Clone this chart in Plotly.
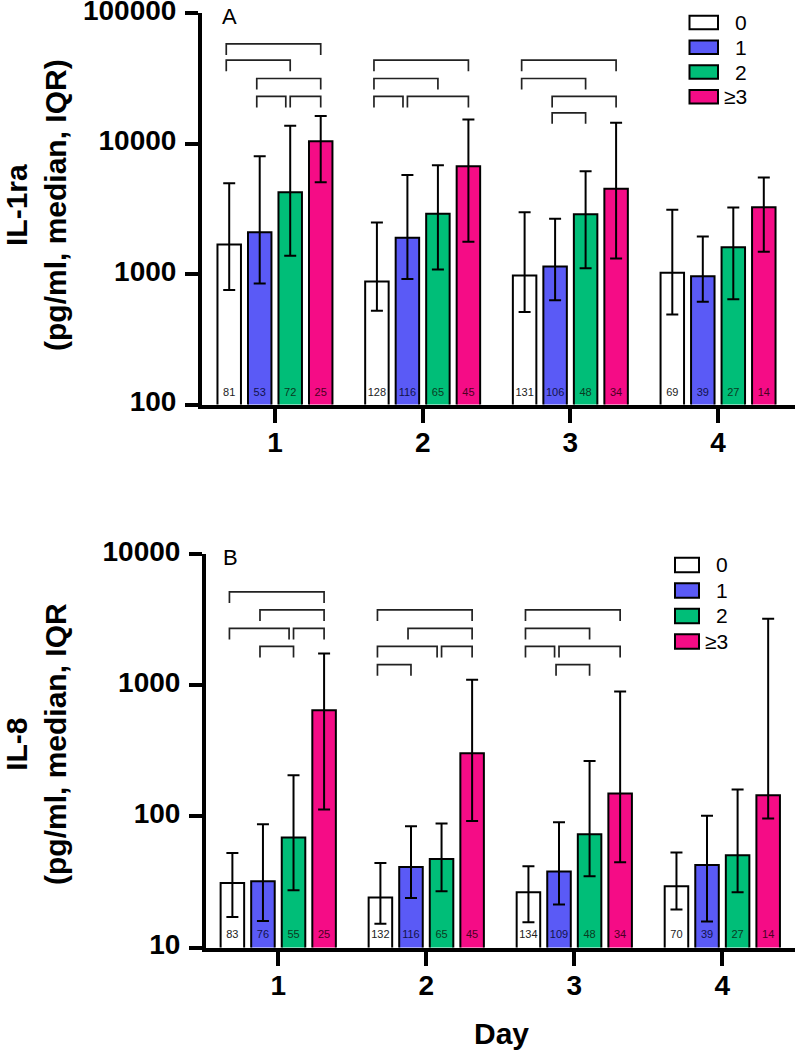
import plotly.graph_objects as go

# ---------------- data ----------------
DAYS = [1, 2, 3, 4]
DAY_TICKS = ["1", "2", "3", "4"]
GROUPS = ["0", "1", "2", "≥3"]

# Panel A: IL-1ra (pg/ml) median and IQR, per group across days 1-4
IL1RA_MED_0 = [1685, 877, 975, 1024]
IL1RA_MED_1 = [2093, 1897, 1143, 960]
IL1RA_MED_2 = [4237, 2890, 2873, 1600]
IL1RA_MED_3 = [10400, 6700, 4497, 3251]
IL1RA_LO_0 = [753, 524, 512, 489]
IL1RA_LO_1 = [844, 914, 628, 614]
IL1RA_LO_2 = [1380, 1084, 1105, 640]
IL1RA_LO_3 = [5050, 1767, 1315, 1483]
IL1RA_HI_0 = [4960, 2484, 2978, 3103]
IL1RA_HI_1 = [7980, 5750, 2650, 1941]
IL1RA_HI_2 = [13700, 6810, 6120, 3236]
IL1RA_HI_3 = [16250, 15300, 14400, 5480]
IL1RA_N_0 = [81, 128, 131, 69]
IL1RA_N_1 = [53, 116, 106, 39]
IL1RA_N_2 = [72, 65, 48, 27]
IL1RA_N_3 = [25, 45, 34, 14]

# Panel B: IL-8 (pg/ml)
IL8_MED_0 = [31.0, 24.0, 26.4, 29.3]
IL8_MED_1 = [32.0, 41.1, 37.9, 42.5]
IL8_MED_2 = [68.8, 47.3, 72.9, 50.4]
IL8_MED_3 = [642, 302, 149, 144.5]
IL8_LO_0 = [17.1, 15.2, 15.6, 19.5]
IL8_LO_1 = [15.9, 23.8, 21.3, 15.8]
IL8_LO_2 = [27.3, 26.8, 34.9, 26.4]
IL8_LO_3 = [112.5, 92.1, 44.6, 96]
IL8_HI_0 = [52.5, 44.1, 41.6, 52.9]
IL8_HI_1 = [86.9, 83.9, 90.0, 101]
IL8_HI_2 = [205, 88.0, 264, 160]
IL8_HI_3 = [1738, 1094, 892, 3190]
IL8_N_0 = [83, 132, 134, 70]
IL8_N_1 = [76, 116, 109, 39]
IL8_N_2 = [55, 65, 48, 27]
IL8_N_3 = [25, 45, 34, 14]

# significance brackets: (day, from group, to group, tier)
IL1RA_BRACKETS = [(1, 0, 3, 0), (1, 0, 2, 1), (1, 1, 3, 2), (1, 1, 2, 3), (1, 2, 3, 3),
                  (2, 0, 3, 1), (2, 0, 2, 2), (2, 0, 1, 3), (2, 1, 3, 3),
                  (3, 0, 3, 1), (3, 0, 2, 2), (3, 1, 3, 3), (3, 1, 2, 4)]
IL1RA_TIERS = [58000, 43500, 31500, 23000, 17200]
IL8_BRACKETS = [(1, 0, 3, 0), (1, 1, 3, 1), (1, 0, 2, 2), (1, 2, 3, 2), (1, 1, 2, 3),
                (2, 0, 3, 1), (2, 1, 3, 2), (2, 0, 2, 3), (2, 2, 3, 3), (2, 0, 1, 4),
                (3, 0, 3, 1), (3, 0, 2, 2), (3, 0, 1, 3), (3, 1, 3, 3), (3, 1, 2, 4)]
IL8_TIERS = [5130, 3740, 2700, 1970, 1430]

# ---------------- style ----------------
W, H = 797, 1050
ML, MR = 202, 2
PW = W - ML - MR
COLORS = ["#FFFFFF", "#5A5AF6", "#00BE78", "#F50C86"]
NCOLORS = ["#222222", "#12124a", "#0a3a22", "#4a0022"]
FONT = "Arial, Liberation Sans, sans-serif"
BARGAP, GROUPGAP = 0.174, 0.23
LEG_DROP = 10 ** 0.085
NLABEL_LIFT = 0.09   # decades above the axis bottom for the n labels


def px_x(px):
    return (px - ML) / PW


def px_y(py):
    return 1 - py / H


def bar_center(day, i):
    slot = (1 - BARGAP) / len(GROUPS)
    return day - (1 - BARGAP) / 2 + (i + 0.5) * slot


fig = go.Figure()

panels = [
    dict(xa="x", ya="y", ylo=2,
         med=[IL1RA_MED_0, IL1RA_MED_1, IL1RA_MED_2, IL1RA_MED_3],
         lo=[IL1RA_LO_0, IL1RA_LO_1, IL1RA_LO_2, IL1RA_LO_3],
         hi=[IL1RA_HI_0, IL1RA_HI_1, IL1RA_HI_2, IL1RA_HI_3],
         n=[IL1RA_N_0, IL1RA_N_1, IL1RA_N_2, IL1RA_N_3],
         br=IL1RA_BRACKETS, tiers=IL1RA_TIERS),
    dict(xa="x2", ya="y2", ylo=1,
         med=[IL8_MED_0, IL8_MED_1, IL8_MED_2, IL8_MED_3],
         lo=[IL8_LO_0, IL8_LO_1, IL8_LO_2, IL8_LO_3],
         hi=[IL8_HI_0, IL8_HI_1, IL8_HI_2, IL8_HI_3],
         n=[IL8_N_0, IL8_N_1, IL8_N_2, IL8_N_3],
         br=IL8_BRACKETS, tiers=IL8_TIERS),
]

for p in panels:
    for g in range(len(GROUPS)):
        med, lo, hi = p["med"][g], p["lo"][g], p["hi"][g]
        fig.add_trace(go.Bar(
            x=DAYS, y=med, name=GROUPS[g], xaxis=p["xa"], yaxis=p["ya"],
            marker=dict(color=COLORS[g], line=dict(color="black", width=2)),
            error_y=dict(type="data", symmetric=False,
                         array=[h - m for h, m in zip(hi, med)],
                         arrayminus=[m - l for m, l in zip(med, lo)],
                         color="black", thickness=2, width=6),
            showlegend=False, hoverinfo="skip"))
    # n labels inside bars
    for g in range(len(GROUPS)):
        fig.add_trace(go.Scatter(
            x=[bar_center(d, g) for d in DAYS],
            y=[10 ** (p["ylo"] + NLABEL_LIFT)] * len(DAYS),
            text=[str(v) for v in p["n"][g]], mode="text", textposition="middle center",
            textfont=dict(family=FONT, size=11, color=NCOLORS[g]),
            xaxis=p["xa"], yaxis=p["ya"], showlegend=False, hoverinfo="skip"))
    # brackets
    bx, by = [], []
    for (day, i, j, t) in p["br"]:
        xl = bar_center(day, i) - 0.02
        xr = bar_center(day, j)
        for (d2, i2, j2, t2) in p["br"]:
            if d2 == day and t2 == t:
                if i2 == j:      # another bracket starts where this ends
                    xr = bar_center(day, j) - 0.03
                if j2 == i:      # another bracket ends where this starts
                    xl = bar_center(day, i) + 0.0
        yv = p["tiers"][t]
        bx += [xl, xl, xr, xr, None]
        by += [yv / LEG_DROP, yv, yv, yv / LEG_DROP, None]
    fig.add_trace(go.Scatter(x=bx, y=by, mode="lines", xaxis=p["xa"], yaxis=p["ya"],
                             line=dict(color="#222222", width=1.7),
                             showlegend=False, hoverinfo="skip"))

axis_common = dict(showgrid=False, zeroline=False, showline=True, linecolor="black",
                   linewidth=4, ticks="outside", tickwidth=4, tickcolor="black",
                   automargin=False, ticklabeloverflow="allow",
                   tickfont=dict(family=FONT, size=28, color="black", weight="bold"))
xaxis_extra = dict(ticklen=14, ticklabelstandoff=-4)
yaxis_extra = dict(ticklen=13, ticklabelstandoff=3, ticklabelshift=-3)

fig.update_layout(
    width=W, height=H, margin=dict(l=ML, r=MR, t=0, b=0),
    paper_bgcolor="white", plot_bgcolor="white",
    barmode="group", bargap=BARGAP, bargroupgap=GROUPGAP,
    showlegend=False,
    xaxis=dict(domain=[0, 1], anchor="y", range=[0.506, 4.521], tickvals=DAYS,
               ticktext=DAY_TICKS, **xaxis_extra, **axis_common),
    yaxis=dict(domain=[px_y(404.5), px_y(13)], anchor="x", type="log", range=[2, 5.0002],
               tickvals=[100, 1000, 10000, 100000],
               ticktext=["100", "1000", "10000", "100000"], **yaxis_extra, **axis_common),
    xaxis2=dict(domain=[px_x(206), 1], anchor="y2", range=[0.512, 4.491], tickvals=DAYS,
                ticktext=DAY_TICKS, **xaxis_extra, **axis_common),
    yaxis2=dict(domain=[px_y(947.5), px_y(553.7)], anchor="x2", type="log", range=[1, 4.0002],
                tickvals=[10, 100, 1000, 10000],
                ticktext=["10", "100", "1000", "10000"], **yaxis_extra, **axis_common),
)

ann = []
shapes = []
title_font = dict(family=FONT, size=30, color="black", weight="bold")
# y-axis titles
ann.append(dict(text="IL-1ra<br>(pg/ml, median, IQR)", x=px_x(36), y=px_y(205),
                xref="paper", yref="paper", showarrow=False, textangle=-90,
                xanchor="center", yanchor="middle", font=title_font))
ann.append(dict(text="IL-8<br>(pg/ml, median, IQR", x=px_x(36), y=px_y(744),
                xref="paper", yref="paper", showarrow=False, textangle=-90,
                xanchor="center", yanchor="middle", font=title_font))
# x title
ann.append(dict(text="Day", x=px_x(501), y=px_y(1033), xref="paper", yref="paper",
                showarrow=False, xanchor="center", yanchor="middle",
                font=dict(family=FONT, size=30, color="black", weight="bold")))
# panel letters
ann.append(dict(text="A", x=px_x(229.5), y=px_y(16.5), xref="paper", yref="paper",
                showarrow=False, xanchor="center", yanchor="middle",
                font=dict(family=FONT, size=22, color="black")))
ann.append(dict(text="B", x=px_x(230), y=px_y(557), xref="paper", yref="paper",
                showarrow=False, xanchor="center", yanchor="middle",
                font=dict(family=FONT, size=22, color="black")))

# manual legends
legends = [dict(x0=689.5, x1=718, y0=15.7, box_h=13.5, pitch=24.8, tx=749),
           dict(x0=675, x1=699, y0=557.7, box_h=14.5, pitch=25.5, tx=730)]
for lg in legends:
    for g, name in enumerate(GROUPS):
        top = lg["y0"] + g * lg["pitch"]
        shapes.append(dict(type="rect", xref="paper", yref="paper",
                           x0=px_x(lg["x0"]), x1=px_x(lg["x1"]),
                           y0=px_y(top + lg["box_h"]), y1=px_y(top),
                           fillcolor=COLORS[g], line=dict(color="black", width=2)))
        ann.append(dict(text=name, x=px_x(lg["tx"]), y=px_y(top + lg["box_h"] / 2),
                        xref="paper", yref="paper", showarrow=False,
                        xanchor="right", yanchor="middle",
                        font=dict(family=FONT, size=21, color="black")))

fig.update_layout(annotations=ann, shapes=shapes)
fig.write_html("out.html", config={"displayModeBar": False},
               post_script="document.body.style.margin='0px';document.body.style.padding='0px';")
